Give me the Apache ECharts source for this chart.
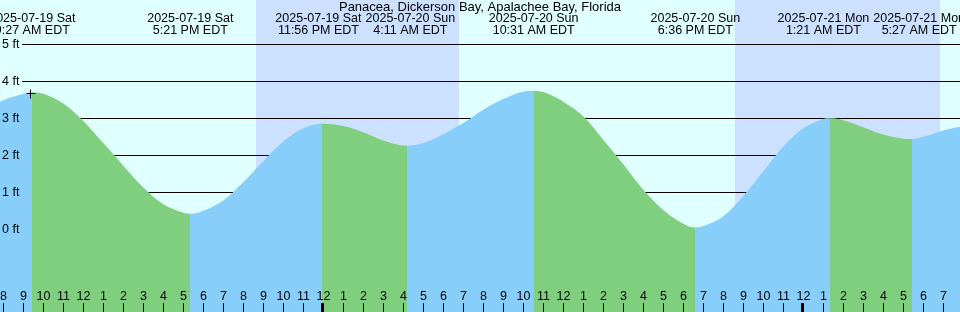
<!DOCTYPE html>
<html><head><meta charset="utf-8">
<script src="https://cdn.jsdelivr.net/npm/echarts@6/dist/echarts.min.js"></script>
<style>html,body{margin:0;padding:0;background:#E0FFFF}#c{width:960px;height:312px}</style>
</head><body><div id="c"></div>
<script>
const TITLE = 'Panacea, Dickerson Bay, Apalachee Bay, Florida';
// hours relative to 2025-07-20 00:00 EDT, heights in feet
const curveHours = [-16.17, -16, -15, -14.55, -14, -13, -12, -11, -10, -9, -8, -7, -6.65, -6, -5, -4, -3, -2, -1, -0.07, 1, 2, 3, 4.18, 5, 6, 7, 8, 9, 10, 10.52, 11, 12, 13, 14, 15, 16, 17, 18, 18.6, 19, 20, 21, 22, 23, 24, 25, 25.35, 26, 27, 28, 29, 29.45, 30, 31, 31.84];
const curveFeet = [3.45, 3.49, 3.66, 3.70, 3.66, 3.40, 2.93, 2.33, 1.72, 1.13, 0.68, 0.45, 0.42, 0.50, 0.78, 1.27, 1.84, 2.37, 2.73, 2.85, 2.79, 2.62, 2.40, 2.26, 2.33, 2.57, 2.87, 3.23, 3.52, 3.72, 3.74, 3.71, 3.45, 3.05, 2.42, 1.76, 1.07, 0.52, 0.15, 0.05, 0.08, 0.35, 0.90, 1.57, 2.24, 2.73, 2.98, 3.00, 2.95, 2.76, 2.56, 2.45, 2.44, 2.50, 2.67, 2.77];
const tideHours = [-14.55, -6.65, -0.07, 4.18, 10.52, 18.6, 25.35, 29.45];
const tideFeet = [3.70, 0.42, 2.85, 2.26, 3.74, 0.05, 3.00, 2.44];
const tideType = ['high', 'low', 'high', 'low', 'high', 'low', 'high', 'low'];
const tideDates = ['2025-07-19 Sat', '2025-07-19 Sat', '2025-07-19 Sat', '2025-07-20 Sun', '2025-07-20 Sun', '2025-07-20 Sun', '2025-07-21 Mon', '2025-07-21 Mon'];
const tideClock = ['9:27 AM EDT', '5:21 PM EDT', '11:56 PM EDT', '4:11 AM EDT', '10:31 AM EDT', '6:36 PM EDT', '1:21 AM EDT', '5:27 AM EDT'];
const nightBands = [[-3.37, 6.79], [20.59, 30.84]];
const ftLevels = [0, 1, 2, 3, 4, 5];
const ftLabels = ['0 ft', '1 ft', '2 ft', '3 ft', '4 ft', '5 ft'];
const hourTicks = [-16, -15, -14, -13, -12, -11, -10, -9, -8, -7, -6, -5, -4, -3, -2, -1, 0, 1, 2, 3, 4, 5, 6, 7, 8, 9, 10, 11, 12, 13, 14, 15, 16, 17, 18, 19, 20, 21, 22, 23, 24, 25, 26, 27, 28, 29, 30, 31];
const hourLabels = ['8', '9', '10', '11', '12', '1', '2', '3', '4', '5', '6', '7', '8', '9', '10', '11', '12', '1', '2', '3', '4', '5', '6', '7', '8', '9', '10', '11', '12', '1', '2', '3', '4', '5', '6', '7', '8', '9', '10', '11', '12', '1', '2', '3', '4', '5', '6', '7'];
const nowMark = [-14.64, 3.67];

const X_MIN = -16.165, X_MAX = 31.835, Y_MIN = -2.235, Y_MAX = 6.197;
const FONT_FAMILY = '"Liberation Sans", Arial, sans-serif';
const FONT = '12.5px ' + FONT_FAMILY;
const RISE = '#87CEFA', FALL = '#7FCF7F', NIGHT = '#CCE0FF', DAY = '#E0FFFF';

const mctx = document.createElement('canvas').getContext('2d');
mctx.font = FONT;
const tw = s => mctx.measureText(s).width;

const pieces = [];
for (let i = 0; i < tideHours.length; i++) {
  const p = { lt: tideHours[i], color: tideType[i] === 'high' ? RISE : FALL };
  if (i > 0) p.gte = tideHours[i - 1];
  pieces.push(p);
}
pieces.push({ gte: tideHours[tideHours.length - 1], color: tideType[tideType.length - 1] === 'high' ? FALL : RISE });

function labelCenters(api) {
  const xs = tideHours.map(h => api.coord([h, 0])[0]);
  const ws = tideDates.map((d, i) => Math.max(tw(d), tw(tideClock[i])));
  for (let pass = 0; pass < 4; pass++) {
    for (let k = 0; k < xs.length - 1; k++) {
      const ov = (xs[k] + ws[k] / 2 + 4) - (xs[k + 1] - ws[k + 1] / 2);
      if (ov > 0) { xs[k] -= ov / 2; xs[k + 1] += ov / 2; }
    }
  }
  return xs;
}

const chart = echarts.init(document.getElementById('c'), null, { width: 960, height: 312 });
chart.setOption({
  animation: false,
  backgroundColor: DAY,
  title: { text: TITLE, left: 'center', top: 1, padding: 0, textStyle: { fontSize: 13, fontWeight: 'normal', color: '#000', fontFamily: FONT_FAMILY } },
  grid: { left: 0, right: 0, top: 0, bottom: 0 },
  xAxis: { type: 'value', min: X_MIN, max: X_MAX, show: false },
  yAxis: { type: 'value', min: Y_MIN, max: Y_MAX, show: false },
  visualMap: { type: 'piecewise', show: false, dimension: 0, seriesIndex: 2, pieces: pieces },
  series: [
    { // night bands
      type: 'custom', z: 0, silent: true,
      data: nightBands,
      renderItem: (params, api) => {
        const a = api.coord([api.value(0), Y_MAX]);
        const b = api.coord([api.value(1), Y_MIN]);
        const x0 = Math.round(a[0]), x1 = Math.round(b[0]);
        return { type: 'rect', shape: { x: x0, y: a[1], width: x1 - x0, height: b[1] - a[1] }, style: { fill: NIGHT } };
      }
    },
    { // foot grid lines (behind water)
      type: 'custom', z: 1, silent: true,
      data: ftLevels.map(v => [X_MIN, v]),
      renderItem: (params, api) => {
        const p = api.coord([X_MIN, api.value(1)]);
        const q = api.coord([X_MAX, api.value(1)]);
        const y = Math.floor(p[1]) + 0.5;
        return { type: 'line', shape: { x1: p[0] + 22, y1: y, x2: q[0], y2: y }, style: { stroke: '#000', lineWidth: 1 } };
      }
    },
    { // water
      type: 'line', z: 2, silent: true,
      data: curveHours.map((h, i) => [h, curveFeet[i]]),
      smooth: 0.35, symbol: 'none',
      lineStyle: { width: 0 },
      areaStyle: { opacity: 1, origin: 'start' }
    },
    { // foot labels
      type: 'custom', z: 5, silent: true,
      data: ftLevels.map(v => [X_MIN, v]),
      renderItem: (params, api) => {
        const p = api.coord([X_MIN, api.value(1)]);
        return { type: 'text', x: p[0] + 2, y: Math.floor(p[1]) + 0.5, style: { text: ftLabels[params.dataIndex], fill: '#000', font: FONT, align: 'left', verticalAlign: 'middle' } };
      }
    },
    { // hour ticks
      type: 'custom', z: 5, silent: true,
      data: hourTicks.map(h => [h, Y_MIN]),
      renderItem: (params, api) => {
        const h = api.value(0);
        const p = api.coord([h, Y_MIN]);
        const mid = (((h % 24) + 24) % 24) === 0;
        const x = mid ? Math.floor(p[0]) - 0.5 : Math.floor(p[0]) + 0.5;
        return { type: 'group', children: [
          { type: 'line', shape: { x1: x, y1: p[1] - 9, x2: x, y2: p[1] }, style: { stroke: '#000', lineWidth: mid ? 3 : 1 } },
          { type: 'text', x: Math.floor(p[0]) + 0.5, y: p[1] - 15, style: { text: hourLabels[params.dataIndex], fill: '#000', font: FONT, align: 'center', verticalAlign: 'middle' } }
        ] };
      }
    },
    { // tide time labels
      type: 'custom', z: 5, silent: true,
      data: tideHours.map((h, i) => [h, tideFeet[i]]),
      renderItem: (params, api) => {
        const xs = labelCenters(api);
        const x = xs[params.dataIndex];
        return { type: 'group', children: [
          { type: 'text', x: x, y: 19, style: { text: tideDates[params.dataIndex], fill: '#000', font: FONT, align: 'center', verticalAlign: 'middle' } },
          { type: 'text', x: x, y: 31, style: { text: tideClock[params.dataIndex], fill: '#000', font: FONT, align: 'center', verticalAlign: 'middle' } }
        ] };
      }
    },
    { // current-time plus marker
      type: 'custom', z: 6, silent: true,
      data: [nowMark],
      renderItem: (params, api) => {
        const p = api.coord([api.value(0), api.value(1)]);
        const cx = Math.floor(p[0]) + 0.5, cy = Math.floor(p[1]) + 0.5;
        return { type: 'group', children: [
          { type: 'line', shape: { x1: cx - 4, y1: cy, x2: cx + 5, y2: cy }, style: { stroke: '#000', lineWidth: 1 } },
          { type: 'line', shape: { x1: cx, y1: cy - 4, x2: cx, y2: cy + 5 }, style: { stroke: '#000', lineWidth: 1 } }
        ] };
      }
    }
  ]
});
</script>
</body></html>
